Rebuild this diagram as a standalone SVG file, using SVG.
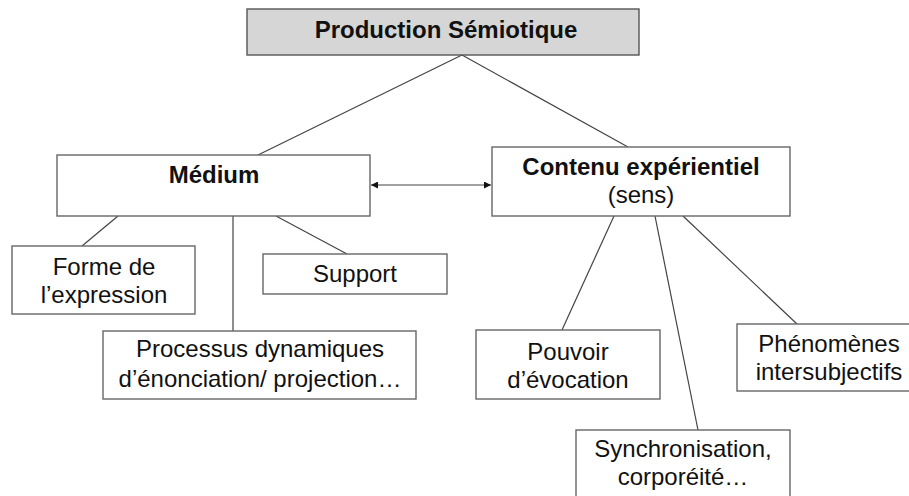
<svg xmlns="http://www.w3.org/2000/svg" width="909" height="496" viewBox="0 0 909 496">
<style>
.box{fill:#fff;stroke:#666;stroke-width:1.4}
.top{fill:#d6d6d6;stroke:#555;stroke-width:1.4}
.ln{stroke:#444;stroke-width:1.2;fill:none}
text{font-family:"Liberation Sans",Arial,sans-serif;font-size:24px;fill:#111;text-anchor:middle}
.b{font-weight:bold}
</style>
<defs>
<marker id="ah" viewBox="0 0 10 10" refX="10" refY="5" markerWidth="8" markerHeight="7" markerUnits="userSpaceOnUse" orient="auto-start-reverse">
<path d="M0,0 L10,5 L0,10 z" fill="#111"/>
</marker>
</defs>
<g id="connectors">
<line class="ln" x1="462" y1="55" x2="258" y2="155"/>
<line class="ln" x1="462" y1="55" x2="628" y2="147"/>
<line class="ln" x1="371" y1="185" x2="491" y2="185" marker-start="url(#ah)" marker-end="url(#ah)"/>
<line class="ln" x1="118" y1="216" x2="82" y2="246"/>
<line class="ln" x1="233" y1="216" x2="233" y2="331"/>
<line class="ln" x1="276" y1="216" x2="347" y2="254"/>
<line class="ln" x1="614" y1="216" x2="562" y2="330"/>
<line class="ln" x1="655" y1="216" x2="698" y2="430"/>
<line class="ln" x1="683" y1="216" x2="797" y2="324"/>
</g>
<g id="production">
<rect class="top" x="247" y="9" width="392" height="46"/>
<text class="b" x="446" y="38">Production Sémiotique</text>
</g>
<g id="medium">
<rect class="box" x="57" y="155" width="313" height="61"/>
<text class="b" x="214" y="183">Médium</text>
</g>
<g id="contenu">
<rect class="box" x="492" y="147" width="298" height="69"/>
<text class="b" x="641" y="175">Contenu expérientiel</text>
<text x="641" y="203">(sens)</text>
</g>
<g id="forme">
<rect class="box" x="12" y="246" width="183" height="68"/>
<text x="104" y="275">Forme de</text>
<text x="104" y="303">l’expression</text>
</g>
<g id="support">
<rect class="box" x="263" y="254" width="184" height="40"/>
<text x="355" y="282">Support</text>
</g>
<g id="processus">
<rect class="box" x="103" y="331" width="313" height="68"/>
<text x="260" y="357">Processus dynamiques</text>
<text x="260" y="387">d’énonciation/ projection…</text>
</g>
<g id="pouvoir">
<rect class="box" x="476" y="330" width="184" height="69"/>
<text x="568" y="360">Pouvoir</text>
<text x="568" y="388">d’évocation</text>
</g>
<g id="phenomenes">
<rect class="box" x="737" y="324" width="180" height="67"/>
<text x="829" y="352">Phénomènes</text>
<text x="829" y="380">intersubjectifs</text>
</g>
<g id="synchronisation">
<rect class="box" x="576" y="430" width="214" height="80"/>
<text x="683" y="457">Synchronisation,</text>
<text x="683" y="485">corporéité…</text>
</g>
</svg>
